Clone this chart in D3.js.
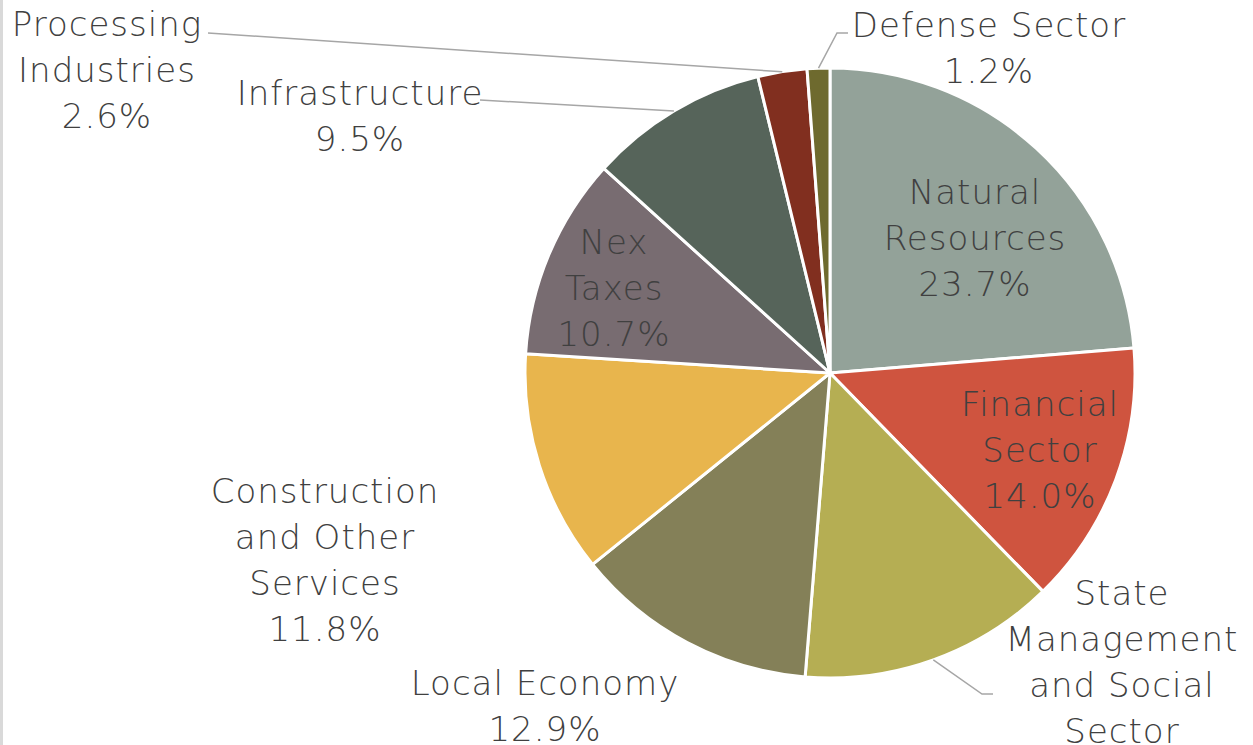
<!DOCTYPE html>
<html>
<head>
<meta charset="utf-8">
<script src="https://cdn.jsdelivr.net/npm/d3@7"></script>
<style>
  body { margin: 0; background: #fff; }
  svg { display: block; }
  .lbl { font-family: "DejaVu Sans", sans-serif; fill: #404040; font-weight: 200; letter-spacing: 1px; }
</style>
</head>
<body>
<svg id="chart-container"></svg>
<script>
// chart data
const categories = ["Natural Resources", "Financial Sector", "State Management and Social Sector",
  "Local Economy", "Construction and Other Services", "Nex Taxes", "Infrastructure",
  "Processing Industries", "Defense Sector"];
const shares = [23.7, 14.0, 13.6, 12.9, 11.8, 10.7, 9.5, 2.6, 1.2];
const labelLines = [
  ["Natural", "Resources"],
  ["Financial", "Sector"],
  ["State", "Management", "and Social", "Sector"],
  ["Local Economy"],
  ["Construction", "and Other", "Services"],
  ["Nex", "Taxes"],
  ["Infrastructure"],
  ["Processing", "Industries"],
  ["Defense Sector"]
];
const colors = ["#93A299", "#CF543F", "#B5AE53", "#848058", "#E8B54D", "#786C71", "#56645A", "#812F1F", "#6E6A2E"];

document.addEventListener("DOMContentLoaded", function () {
  const styling = { width: 1253, height: 745, cx: 830, cy: 373, radius: 305 };
  drawPie(styling);
});

function drawPie(styling) {
  const { width, height, cx, cy, radius } = styling;
  const svg = d3.select("#chart-container").attr("width", width).attr("height", height);

  // faint frame edge on the left
  svg.append("rect").attr("x", 0).attr("y", 0).attr("width", 3).attr("height", height).attr("fill", "#d9d9d9");

  const data = categories.map((c, i) => ({ name: c, value: shares[i], lines: labelLines[i], color: colors[i] }));
  const pie = d3.pie().sort(null).value(d => d.value);
  const arcs = pie(data);
  const arc = d3.arc().innerRadius(0).outerRadius(radius);

  const g = svg.append("g").attr("transform", `translate(${cx},${cy})`);
  g.selectAll("path.slice")
    .data(arcs)
    .join("path")
    .attr("class", "slice")
    .attr("d", arc)
    .attr("fill", d => d.data.color)
    .attr("stroke", "#fff")
    .attr("stroke-width", 3)
    .attr("stroke-linejoin", "round");

  // label block centres (first line)
  const labelPos = [
    [975, 192], [1040, 404], [1122, 593], [545, 683], [325, 491],
    [614, 242], [360, 93], [107, 24], [989, 25]
  ];
  // leader lines: [elbow point, end point] for outside labels, null otherwise
  const leaders = [null, null, [[982, 694], [993, 694]], null, null, null,
    [[480, 100], [480, 100]], [[208, 33], [208, 33]], [[837, 33], [848, 33]]];

  const point = d => {
    const a = (d.startAngle + d.endAngle) / 2;
    return [cx + radius * Math.sin(a), cy - radius * Math.cos(a)];
  };

  svg.selectAll("path.leader")
    .data(arcs.filter((d, i) => leaders[i]))
    .join("path")
    .attr("class", "leader")
    .attr("d", d => {
      const i = d.index;
      return d3.line()([point(d), leaders[i][0], leaders[i][1]]);
    })
    .attr("fill", "none")
    .attr("stroke", "#a6a6a6")
    .attr("stroke-width", 1.5);

  const lineH = 46;
  const labels = svg.selectAll("text.lbl")
    .data(arcs)
    .join("text")
    .attr("class", "lbl")
    .attr("text-anchor", "middle")
    .attr("font-size", 34)
    .attr("dominant-baseline", "central");
  labels.each(function (d, i) {
    const t = d3.select(this);
    const lines = d.data.lines.concat([d.data.value.toFixed(1) + "%"]);
    lines.forEach((s, k) => {
      t.append("tspan")
        .attr("x", labelPos[i][0])
        .attr("y", labelPos[i][1] + k * lineH)
        .text(s);
    });
  });
}
</script>
</body>
</html>
